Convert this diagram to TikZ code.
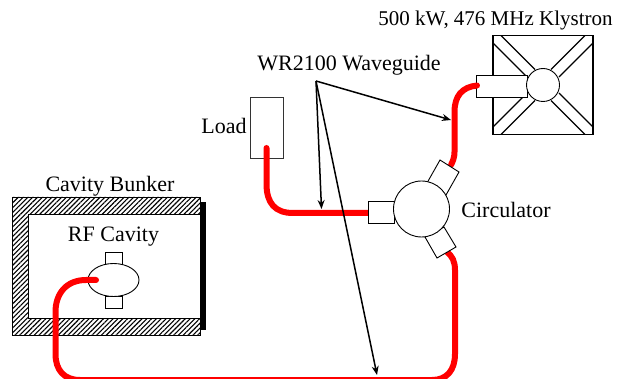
\documentclass[tikz,border=0pt]{standalone}
\usepackage{fontspec}
\setmainfont{Liberation Serif}
\usetikzlibrary{shapes.geometric,patterns.meta,arrows.meta}
\tikzset{
  lbl/.style={inner sep=0pt,font=\fontsize{22}{24}\selectfont,text=black},
  part/.style={draw=black,line width=0.9pt,fill=white,inner sep=0pt,outer sep=0pt},
  wall/.style={draw=black,line width=0.9pt,pattern={Lines[angle=45,distance=3.4pt,line width=1.1pt]},pattern color=black},
  wire/.style={draw=red,line width=6pt,line cap=round},
  pointer/.style={draw=black,line width=1.5pt,-{Stealth[length=9pt,width=7pt]}},
  thinline/.style={draw=black,line width=0.9pt}
}
\begin{document}
\begin{tikzpicture}[x=1pt,y=-1pt]
\useasboundingbox (0,0) rectangle (629,379);
\clip (0,0) rectangle (629,379);
% bunker
\fill[white] (0,0) rectangle (629,379);
\fill[black] (200,202) rectangle (206,330);
\path[wall] (12,197) -- (200,197) -- (200,214) -- (28,214) -- (28,318) -- (200,318) -- (200,335) -- (12,335) -- cycle;
\node[lbl] (bunkerlabel) at (110,186) {Cavity Bunker};
\node[lbl] (cavitylabel) at (113.5,237) {RF Cavity};
% cavity
\node[part,minimum width=17pt,minimum height=12pt] (stubtop) at (113.5,258) {};
\node[part,minimum width=17pt,minimum height=12pt] (stubbot) at (113.5,302) {};
\node[part,ellipse,minimum width=51pt,minimum height=33pt] (cavity) at (113.5,280) {};
% load
\node[part,draw=black!80,minimum width=33pt,minimum height=61pt] (load) at (266.5,127.5) {};
\node[lbl] (loadlabel) at (224,126) {Load};
% klystron
\node[part,line width=1.3pt,minimum width=100pt,minimum height=99pt] (kbox) at (543,85) {};
\foreach \a/\b/\c/\d in {493/43/527/77, 501/35.5/535/69.5, 593/43/559/77, 585/35.5/551/69.5, 493/127/527/93, 501/134.5/535/100.5, 593/127/559/93, 585/134.5/551/100.5}
  \draw[thinline,line width=1.1pt] (\a,\b) -- (\c,\d);
\node[part,minimum width=51pt,minimum height=22pt] (kstub) at (501.5,86) {};
\node[part,circle,minimum size=33pt] (kcore) at (543,85) {};
\node[lbl,font=\fontsize{21}{24}\selectfont] (klabel) at (495.5,20) {500 kW, 476 MHz Klystron};
% wires
\coordinate (loadend) at (266.5,148);
\coordinate (cavend) at (96,280);
\coordinate (kend) at (477,85.5);
\coordinate (cleft) at (372,213);
\coordinate (cup) at (451,165);
\coordinate (cdown) at (447,252);
\draw[wire] (loadend) -- (266.5,184) .. controls (266.5,203) and (275,213) .. (293,213) -- (cleft);
\draw[wire] (kend) .. controls (462,87) and (454.5,96) .. (454.5,112) -- (454.5,152) .. controls (454.5,157) and (453,161) .. (cup);
\draw[wire] (cavend) -- (86,280) .. controls (66,280) and (55.5,294) .. (55.5,312) -- (55.5,354) .. controls (55.5,370) and (64,380) .. (80,380) -- (432,380) .. controls (447,380) and (455,370) .. (455,354) -- (455,270) .. controls (455,261) and (452,256) .. (cdown);
% circulator
\node[part,minimum width=26pt,minimum height=22pt] (cstubl) at (381,212) {};
\path[part] (440,160) -- (459,172) -- (446,195) -- (427,183) -- cycle;
\path[part] (456,247) -- (437,258) -- (425,237) -- (444,227) -- cycle;
\node[part,circle,minimum size=56pt] (circ) at (421.5,209) {};
\node[lbl] (circlabel) at (506,210) {Circulator};
% pointers
\node[lbl] (wglabel) at (349,65) {WR2100 Waveguide};
\coordinate (hub) at (316,81);
\coordinate (t1) at (321.5,209);
\coordinate (t2) at (377,375);
\coordinate (t3) at (451,120);
\draw[pointer] (hub) -- (t1);
\draw[pointer] (hub) -- (t2);
\draw[pointer] (hub) -- (t3);
\end{tikzpicture}
\end{document}
